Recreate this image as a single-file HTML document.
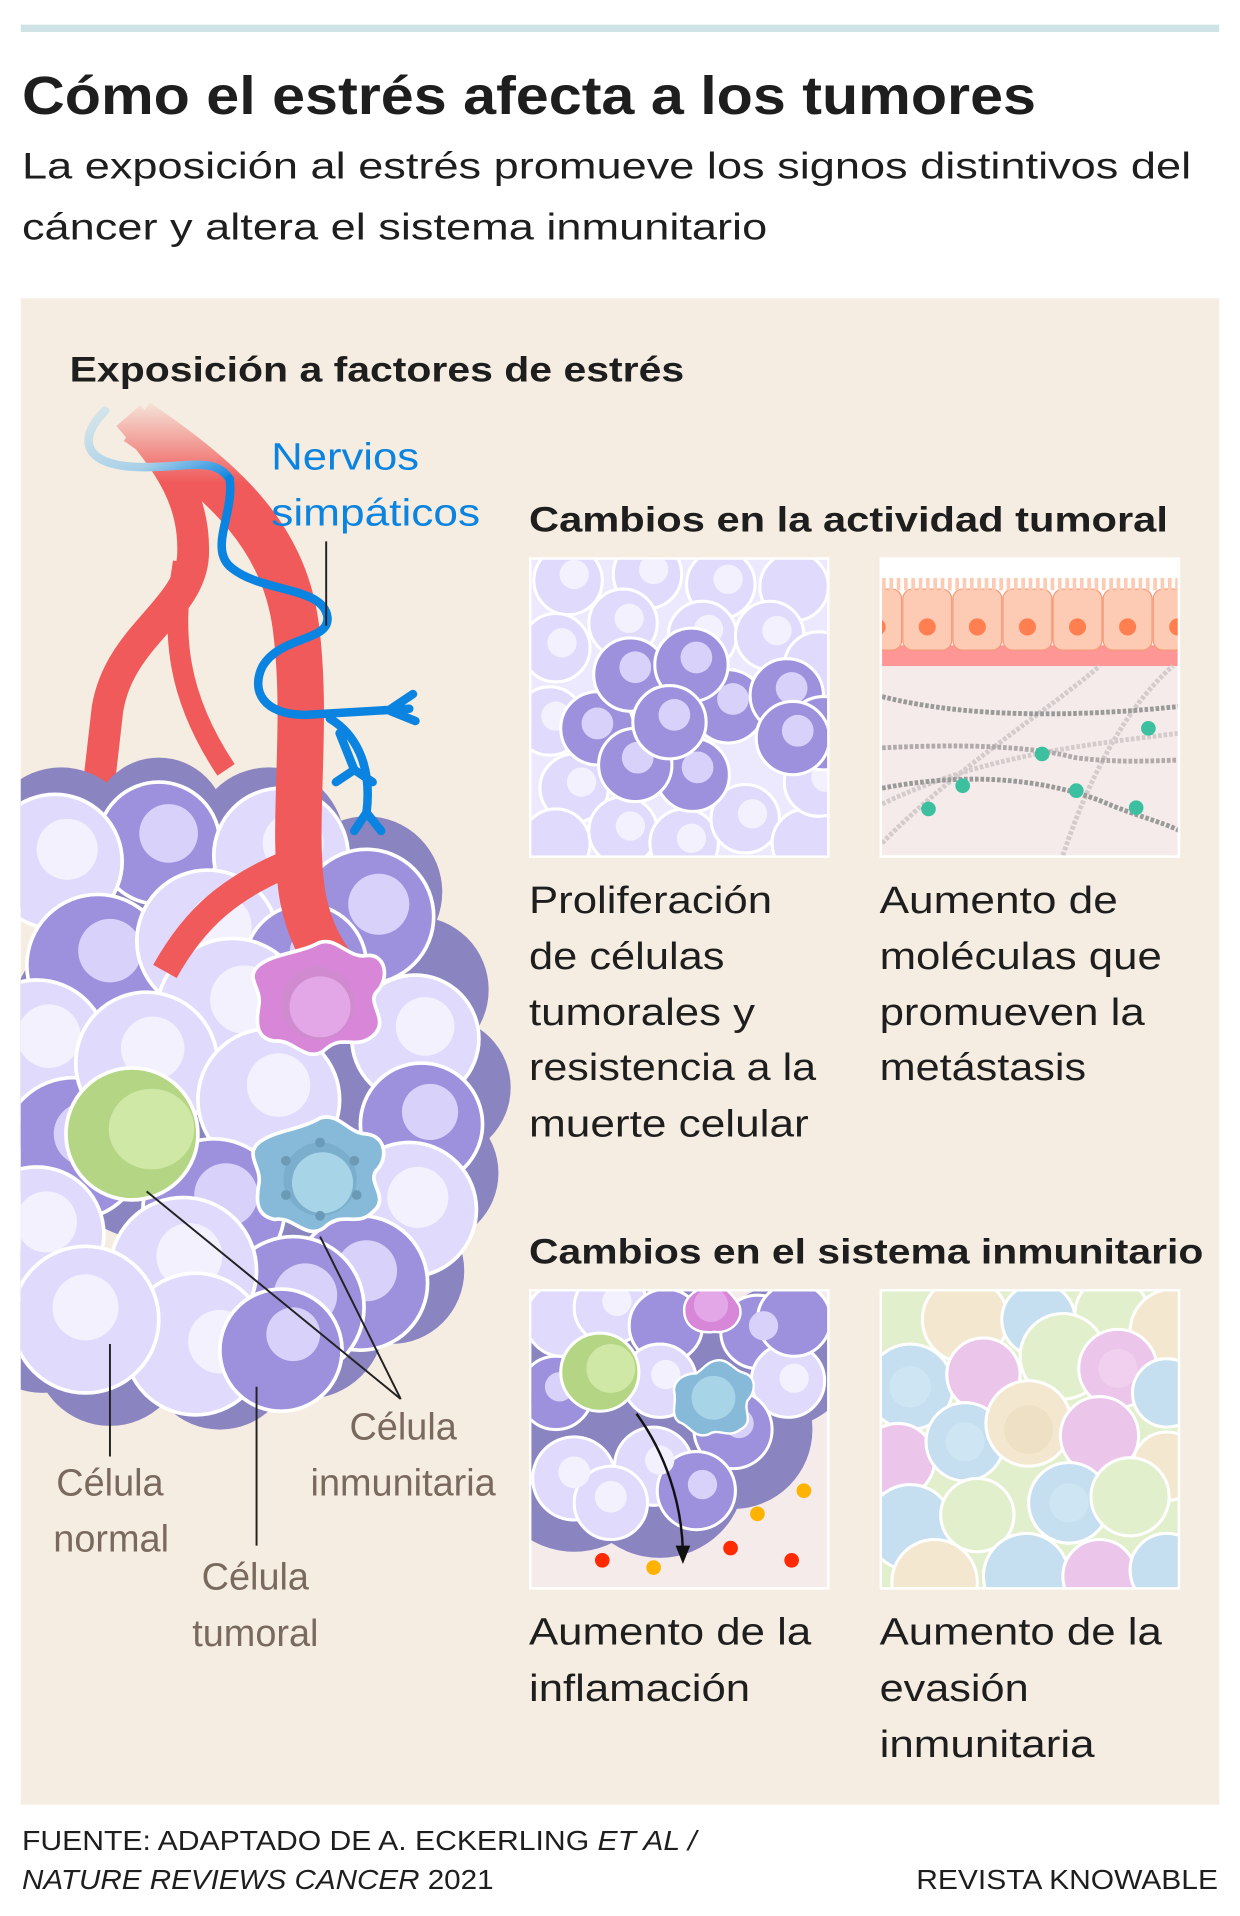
<!DOCTYPE html>
<html><head><meta charset="utf-8"><style>
html,body{margin:0;padding:0;background:#fff}
svg{display:block}
text{font-family:"Liberation Sans",sans-serif}
</style></head><body>
<svg width="1240" height="1916" viewBox="0 0 1015 1568" xmlns="http://www.w3.org/2000/svg">
<defs>
<clipPath id="c1"><rect x="435" y="458" width="242" height="242"/></clipPath>
<clipPath id="c2"><rect x="722" y="458" width="242" height="242"/></clipPath>
<clipPath id="c3"><rect x="435" y="1057" width="242" height="242"/></clipPath>
<clipPath id="c4"><rect x="722" y="1057" width="242" height="242"/></clipPath>
<clipPath id="cp"><rect x="17" y="244" width="981" height="1233"/></clipPath>
<linearGradient id="fade" x1="0" y1="0" x2="0" y2="1"><stop offset="0" stop-color="#f5ede1" stop-opacity="1"/><stop offset="1" stop-color="#f5ede1" stop-opacity="0"/></linearGradient>
<linearGradient id="nv" x1="0" y1="0" x2="1" y2="1"><stop offset="0" stop-color="#d6e6ea"/><stop offset="0.6" stop-color="#a9d0e8"/><stop offset="1" stop-color="#0a84e0"/></linearGradient>
</defs>
<rect x="17" y="20" width="981" height="6" fill="#cfe3e6"/>
<text x="18" y="93" font-size="44" font-weight="bold" fill="#1e1e1e" textLength="830" lengthAdjust="spacingAndGlyphs">Cómo el estrés afecta a los tumores</text>
<text x="18" y="146" font-size="30" fill="#1e1e1e" textLength="957" lengthAdjust="spacingAndGlyphs">La exposición al estrés promueve los signos distintivos del</text>
<text x="18" y="196" font-size="30" fill="#1e1e1e" textLength="610" lengthAdjust="spacingAndGlyphs">cáncer y altera el sistema inmunitario</text>
<rect x="17" y="244" width="981" height="1233" fill="#f5ede1"/>
<text x="57" y="312" font-size="29" font-weight="bold" fill="#1e1e1e" textLength="503" lengthAdjust="spacingAndGlyphs">Exposición a factores de estrés</text>

<g clip-path="url(#cp)">
<path d="M105,340 C140,380 160,410 158,455 C155,500 98,520 88,580 L80,650" fill="none" stroke="#f05a5a" stroke-width="26"/>
<path d="M150,460 C140,520 145,570 185,630" fill="none" stroke="#f05a5a" stroke-width="17"/>
<g fill="#8a84c0">
<circle cx="50" cy="690" r="62"/><circle cx="130" cy="675" r="55"/><circle cx="220" cy="690" r="62"/><circle cx="300" cy="730" r="62"/>
<circle cx="340" cy="810" r="60"/><circle cx="360" cy="890" r="58"/><circle cx="350" cy="960" r="58"/><circle cx="320" cy="1040" r="60"/>
<circle cx="250" cy="1080" r="65"/><circle cx="180" cy="1110" r="60"/><circle cx="90" cy="1105" r="62"/><circle cx="35" cy="1080" r="60"/>
<circle cx="150" cy="870" r="150"/><circle cx="250" cy="900" r="130"/>
</g>
<g stroke="#fff" stroke-width="3">
<circle cx="130" cy="690" r="50" fill="#9d91dd"/><circle cx="138" cy="682" r="24" fill="#d8d2fa" stroke="none"/>
<circle cx="45" cy="705" r="55" fill="#e0dafc"/><circle cx="55" cy="695" r="25" fill="#f3f1fe" stroke="none"/>
<circle cx="230" cy="700" r="55" fill="#e0dafc"/><circle cx="240" cy="690" r="25" fill="#f3f1fe" stroke="none"/>
<circle cx="300" cy="750" r="55" fill="#9d91dd"/><circle cx="310" cy="740" r="25" fill="#d8d2fa" stroke="none"/>
<circle cx="80" cy="790" r="58" fill="#9d91dd"/><circle cx="90" cy="778" r="26" fill="#d8d2fa" stroke="none"/>
<circle cx="170" cy="770" r="58" fill="#e0dafc"/><circle cx="180" cy="758" r="26" fill="#f3f1fe" stroke="none"/>
<circle cx="250" cy="790" r="50" fill="#9d91dd"/><circle cx="260" cy="780" r="23" fill="#d8d2fa" stroke="none"/>
<circle cx="30" cy="860" r="58" fill="#e0dafc"/><circle cx="40" cy="848" r="26" fill="#f3f1fe" stroke="none"/>
<circle cx="340" cy="850" r="52" fill="#e0dafc"/><circle cx="348" cy="840" r="24" fill="#f3f1fe" stroke="none"/>
<circle cx="345" cy="920" r="50" fill="#9d91dd"/><circle cx="352" cy="910" r="23" fill="#d8d2fa" stroke="none"/>
<circle cx="335" cy="990" r="55" fill="#e0dafc"/><circle cx="342" cy="980" r="25" fill="#f3f1fe" stroke="none"/>
<circle cx="295" cy="1050" r="55" fill="#9d91dd"/><circle cx="300" cy="1040" r="25" fill="#d8d2fa" stroke="none"/>
<circle cx="190" cy="830" r="62" fill="#e0dafc"/><circle cx="200" cy="818" r="28" fill="#f3f1fe" stroke="none"/>
<circle cx="60" cy="940" r="58" fill="#9d91dd"/><circle cx="70" cy="928" r="26" fill="#d8d2fa" stroke="none"/>
<circle cx="120" cy="870" r="58" fill="#e0dafc"/><circle cx="125" cy="858" r="26" fill="#f3f1fe" stroke="none"/>
<circle cx="220" cy="900" r="58" fill="#e0dafc"/><circle cx="228" cy="888" r="26" fill="#f3f1fe" stroke="none"/>
<circle cx="30" cy="1010" r="55" fill="#e0dafc"/><circle cx="38" cy="1000" r="25" fill="#f3f1fe" stroke="none"/>
<circle cx="175" cy="990" r="58" fill="#9d91dd"/><circle cx="185" cy="978" r="26" fill="#d8d2fa" stroke="none"/>
<circle cx="240" cy="1070" r="58" fill="#9d91dd"/><circle cx="250" cy="1060" r="26" fill="#d8d2fa" stroke="none"/>
<circle cx="150" cy="1040" r="60" fill="#e0dafc"/><circle cx="155" cy="1028" r="27" fill="#f3f1fe" stroke="none"/>
<circle cx="160" cy="1100" r="58" fill="#e0dafc"/><circle cx="180" cy="1098" r="26" fill="#f3f1fe" stroke="none"/>
<circle cx="70" cy="1080" r="60" fill="#e0dafc"/><circle cx="70" cy="1070" r="27" fill="#f3f1fe" stroke="none"/>
<circle cx="230" cy="1105" r="50" fill="#9d91dd"/><circle cx="240" cy="1092" r="22" fill="#d8d2fa" stroke="none"/>
</g>
<path d="M112,345 C185,395 235,440 243,520 C252,600 238,680 248,735 C255,770 270,790 285,805" fill="none" stroke="#f05a5a" stroke-width="38"/>
<path d="M240,705 C190,725 160,750 135,795" fill="none" stroke="#f05a5a" stroke-width="22"/>
<rect x="60" y="325" width="220" height="70" fill="url(#fade)"/>
<path d="M86,336 C62,360 70,380 110,382 C150,384 175,372 188,392" fill="none" stroke="url(#nv)" stroke-width="7" stroke-linecap="round"/>
<path d="M188,392 C192,420 170,450 190,465 C215,485 265,480 268,505 C270,525 230,520 215,545 C205,565 215,585 250,585 L335,580 M320,580 L338,568 M320,582 L340,590 M270,588 C290,600 305,625 300,665 L290,680 M300,665 L312,680 M278,600 L290,630 L275,640 M290,630 L305,640" fill="none" stroke="#0a84e0" stroke-width="7" stroke-linecap="round" stroke-linejoin="round"/>
<path d="M260,772 C275,765 285,785 300,782 C315,780 320,800 308,812 C300,822 320,835 305,848 C290,860 280,845 265,860 C250,870 240,850 225,852 C208,850 210,835 212,822 C214,808 200,800 212,790 C225,780 245,780 260,772Z" fill="#d887d8" stroke="#fff" stroke-width="3"/>
<circle cx="260" cy="821" r="30" fill="#d08ad0"/><circle cx="262" cy="824" r="25" fill="#e3a6e6"/>
<circle cx="108" cy="928" r="54" fill="#b4d584" stroke="#fff" stroke-width="3"/>
<ellipse cx="124" cy="924" rx="35" ry="33" fill="#d0e8a6"/>
<path d="M262,915 C278,910 285,928 300,928 C316,930 318,948 308,958 C300,968 320,980 305,992 C292,1005 280,990 265,1005 C250,1015 240,995 225,998 C208,995 210,980 212,968 C214,955 200,945 212,935 C225,925 245,925 262,915Z" fill="#86bad8" stroke="#fff" stroke-width="3"/>
<circle cx="262" cy="965" r="30" fill="#7aaecc"/><circle cx="264" cy="968" r="25" fill="#a8d4e8"/>
<g fill="#6a9ab5"><circle cx="262" cy="935" r="4"/><circle cx="290" cy="950" r="4"/><circle cx="292" cy="978" r="4"/><circle cx="262" cy="995" r="4"/><circle cx="234" cy="978" r="4"/><circle cx="234" cy="950" r="4"/></g>
</g>
<g stroke="#222" stroke-width="1.6" fill="none">
<line x1="267" y1="443" x2="267" y2="512"/>
<line x1="120" y1="975" x2="328" y2="1145"/>
<line x1="262" y1="1012" x2="328" y2="1145"/>
<line x1="90" y1="1100" x2="90" y2="1192"/>
<line x1="210" y1="1135" x2="210" y2="1265"/>
</g>
<g font-size="31" fill="#0a84e0">
<text x="222" y="384" textLength="121" lengthAdjust="spacingAndGlyphs">Nervios</text>
<text x="222" y="430" textLength="171" lengthAdjust="spacingAndGlyphs">simpáticos</text>
</g>
<g font-size="31" fill="#7a6a5e" text-anchor="middle">
<text x="90" y="1224">Célula</text><text x="91" y="1270">normal</text>
<text x="330" y="1178">Célula</text><text x="330" y="1224">inmunitaria</text>
<text x="209" y="1301">Célula</text><text x="209" y="1347">tumoral</text>
</g>

<text x="433" y="435" font-size="29" font-weight="bold" fill="#1e1e1e" textLength="523" lengthAdjust="spacingAndGlyphs">Cambios en la actividad tumoral</text>
<text x="433" y="1034" font-size="29" font-weight="bold" fill="#1e1e1e" textLength="552" lengthAdjust="spacingAndGlyphs">Cambios en el sistema inmunitario</text>

<rect x="433" y="456" width="246" height="246" fill="#fff"/>
<g clip-path="url(#c1)">
<rect x="435" y="458" width="242" height="242" fill="#ece8fd"/>
<g stroke="#fff" stroke-width="2.5" fill="#e0dafc">
<circle cx="465" cy="475" r="28"/><circle cx="530" cy="470" r="28"/><circle cx="590" cy="478" r="28"/><circle cx="650" cy="480" r="28"/>
<circle cx="455" cy="530" r="28"/><circle cx="510" cy="510" r="28"/><circle cx="575" cy="520" r="28"/><circle cx="630" cy="520" r="28"/><circle cx="670" cy="545" r="28"/>
<circle cx="450" cy="590" r="28"/><circle cx="470" cy="645" r="28"/><circle cx="455" cy="690" r="28"/><circle cx="510" cy="680" r="28"/><circle cx="560" cy="690" r="28"/>
<circle cx="610" cy="670" r="28"/><circle cx="660" cy="690" r="28"/><circle cx="670" cy="640" r="28"/>
</g>
<g fill="#f3f1fe"><circle cx="470" cy="470" r="12"/><circle cx="535" cy="466" r="12"/><circle cx="596" cy="474" r="12"/><circle cx="515" cy="506" r="12"/><circle cx="580" cy="515" r="12"/><circle cx="636" cy="516" r="12"/><circle cx="460" cy="526" r="12"/><circle cx="455" cy="586" r="12"/><circle cx="476" cy="640" r="12"/><circle cx="516" cy="676" r="12"/><circle cx="566" cy="686" r="12"/><circle cx="616" cy="666" r="12"/><circle cx="676" cy="636" r="12"/></g>
<g stroke="#fff" stroke-width="2.5">
<circle cx="489" cy="596" r="30" fill="#9d91dd"/><circle cx="489" cy="592" r="13" fill="#d8d2fa" stroke="none"/>
<circle cx="516" cy="552" r="30" fill="#9d91dd"/><circle cx="520" cy="546" r="13" fill="#d8d2fa" stroke="none"/>
<circle cx="596" cy="578" r="30" fill="#9d91dd"/><circle cx="600" cy="572" r="13" fill="#d8d2fa" stroke="none"/>
<circle cx="566" cy="544" r="30" fill="#9d91dd"/><circle cx="570" cy="538" r="13" fill="#d8d2fa" stroke="none"/>
<circle cx="644" cy="569" r="30" fill="#9d91dd"/><circle cx="648" cy="563" r="13" fill="#d8d2fa" stroke="none"/>
<circle cx="674" cy="600" r="30" fill="#9d91dd"/>
<circle cx="567" cy="634" r="30" fill="#9d91dd"/><circle cx="571" cy="628" r="13" fill="#d8d2fa" stroke="none"/>
<circle cx="520" cy="626" r="30" fill="#9d91dd"/><circle cx="522" cy="620" r="13" fill="#d8d2fa" stroke="none"/>
<circle cx="548" cy="591" r="30" fill="#9d91dd"/><circle cx="552" cy="585" r="13" fill="#d8d2fa" stroke="none"/>
<circle cx="649" cy="604" r="30" fill="#9d91dd"/><circle cx="653" cy="598" r="13" fill="#d8d2fa" stroke="none"/>
</g>
</g>
<rect x="720" y="456" width="246" height="246" fill="#fff"/>
<g clip-path="url(#c2)">
<rect x="722" y="530" width="242" height="170" fill="#f5ebea"/>
<rect x="722" y="528" width="242" height="17" fill="#ff9696"/>
<g fill="#fdcab3" stroke="#f59b7a" stroke-width="1">
<rect x="700" y="482" width="38" height="50" rx="8"/><rect x="739" y="482" width="40" height="50" rx="8"/><rect x="780" y="482" width="40" height="50" rx="8"/><rect x="821" y="482" width="40" height="50" rx="8"/><rect x="862" y="482" width="40" height="50" rx="8"/><rect x="903" y="482" width="40" height="50" rx="8"/><rect x="944" y="482" width="40" height="50" rx="8"/>
</g>
<path d="M722,478 h242" stroke="#fdcab3" stroke-width="10" stroke-dasharray="3 3"/>
<g fill="#ff7f50"><circle cx="718" cy="513" r="7"/><circle cx="759" cy="513" r="7"/><circle cx="800" cy="513" r="7"/><circle cx="841" cy="513" r="7"/><circle cx="882" cy="513" r="7"/><circle cx="923" cy="513" r="7"/><circle cx="964" cy="513" r="7"/></g>
<g fill="none" stroke-width="4" stroke-dasharray="3 1.5">
<path d="M722,690 C780,630 860,580 900,545" stroke="#d4cccc"/>
<path d="M870,700 C890,640 920,580 960,545" stroke="#d4cccc"/>
<path d="M722,658 C800,620 880,610 966,600" stroke="#d4cccc"/>
<path d="M722,570 C800,590 900,585 966,578" stroke="#9a9a9a"/>
<path d="M722,612 C800,608 850,612 880,620 C920,625 950,622 966,622" stroke="#b0aaaa"/>
<path d="M722,645 C800,630 860,640 900,655 C930,668 950,672 966,680" stroke="#9a9a9a"/>
</g>
<g fill="#3cc0a0"><circle cx="940" cy="596" r="6"/><circle cx="853" cy="617" r="6"/><circle cx="788" cy="643" r="6"/><circle cx="881" cy="647" r="6"/><circle cx="760" cy="662" r="6"/><circle cx="930" cy="661" r="6"/></g>
</g>
<rect x="433" y="1055" width="246" height="246" fill="#fff"/>
<g clip-path="url(#c3)">
<rect x="435" y="1057" width="242" height="242" fill="#f5ebea"/>
<g fill="#8a84c0"><circle cx="470" cy="1200" r="70"/><circle cx="540" cy="1205" r="70"/><circle cx="600" cy="1170" r="65"/><circle cx="640" cy="1110" r="58"/><circle cx="520" cy="1120" r="90"/></g>
<g stroke="#fff" stroke-width="2.5">
<circle cx="460" cy="1080" r="30" fill="#e0dafc"/><circle cx="500" cy="1070" r="30" fill="#e0dafc"/><circle cx="545" cy="1085" r="30" fill="#9d91dd"/>
<circle cx="620" cy="1090" r="30" fill="#9d91dd"/><circle cx="645" cy="1130" r="30" fill="#e0dafc"/><circle cx="650" cy="1080" r="30" fill="#9d91dd"/>
<circle cx="455" cy="1140" r="30" fill="#9d91dd"/><circle cx="540" cy="1130" r="30" fill="#e0dafc"/><circle cx="600" cy="1170" r="32" fill="#9d91dd"/>
<circle cx="470" cy="1210" r="34" fill="#e0dafc"/><circle cx="535" cy="1200" r="32" fill="#e0dafc"/><circle cx="570" cy="1220" r="32" fill="#9d91dd"/><circle cx="500" cy="1230" r="30" fill="#e0dafc"/>
</g>
<g fill="#f3f1fe"><circle cx="470" cy="1205" r="13"/><circle cx="500" cy="1225" r="13"/><circle cx="540" cy="1195" r="12"/><circle cx="545" cy="1125" r="12"/><circle cx="650" cy="1128" r="12"/><circle cx="505" cy="1065" r="12"/></g>
<g fill="#d8d2fa"><circle cx="575" cy="1215" r="12"/><circle cx="605" cy="1165" r="12"/><circle cx="625" cy="1085" r="12"/><circle cx="458" cy="1135" r="12"/></g>
<path d="M582,1052 C592,1050 600,1060 605,1068 C610,1080 598,1092 585,1090 C570,1092 560,1085 560,1072 C560,1060 572,1054 582,1052Z" fill="#d887d8" stroke="#fff" stroke-width="2"/>
<circle cx="582" cy="1068" r="14" fill="#e3a6e6"/>
<circle cx="491" cy="1123" r="32" fill="#b4d584" stroke="#fff" stroke-width="2.5"/><circle cx="500" cy="1120" r="20" fill="#d0e8a6"/>
<path d="M584,1114 C596,1110 600,1122 610,1124 C620,1128 618,1140 612,1146 C608,1154 618,1164 606,1170 C596,1178 588,1168 580,1174 C568,1178 564,1166 556,1164 C548,1158 554,1148 552,1140 C550,1130 560,1124 570,1124 C576,1120 578,1116 584,1114Z" fill="#86bad8" stroke="#fff" stroke-width="2"/>
<circle cx="584" cy="1144" r="18" fill="#a8d4e8"/>
<path d="M521,1157 C545,1190 558,1230 559,1270" fill="none" stroke="#111" stroke-width="2"/>
<path d="M553,1265 L565,1265 L559,1280Z" fill="#111"/>
<g><circle cx="493" cy="1277" r="6" fill="#ff2a00"/><circle cx="535" cy="1283" r="6" fill="#ffb300"/><circle cx="598" cy="1267" r="6" fill="#ff2a00"/><circle cx="620" cy="1239" r="6" fill="#ffb300"/><circle cx="658" cy="1220" r="6" fill="#ffb300"/><circle cx="648" cy="1277" r="6" fill="#ff2a00"/></g>
</g>
<rect x="720" y="1055" width="246" height="246" fill="#fff"/>
<g clip-path="url(#c4)" stroke="#fff" stroke-width="2.5">
<rect x="722" y="1057" width="242" height="242" fill="#e2efcc" stroke="none"/>
<circle cx="790" cy="1080" r="35" fill="#f3e7cf"/><circle cx="850" cy="1080" r="30" fill="#c5dff0"/><circle cx="910" cy="1075" r="30" fill="#e2efcc"/><circle cx="960" cy="1090" r="35" fill="#f3e7cf"/>
<circle cx="745" cy="1135" r="35" fill="#c5dff0"/><circle cx="805" cy="1125" r="30" fill="#ecc6ea"/><circle cx="870" cy="1110" r="35" fill="#e2efcc"/><circle cx="915" cy="1120" r="32" fill="#ecc6ea"/><circle cx="955" cy="1140" r="28" fill="#c5dff0"/>
<circle cx="735" cy="1195" r="30" fill="#ecc6ea"/><circle cx="790" cy="1180" r="32" fill="#c5dff0"/><circle cx="842" cy="1165" r="35" fill="#f3e7cf"/><circle cx="900" cy="1175" r="32" fill="#ecc6ea"/><circle cx="955" cy="1200" r="28" fill="#f3e7cf"/>
<circle cx="745" cy="1250" r="35" fill="#c5dff0"/><circle cx="800" cy="1240" r="30" fill="#e2efcc"/><circle cx="875" cy="1230" r="33" fill="#c5dff0"/><circle cx="925" cy="1225" r="32" fill="#e2efcc"/>
<circle cx="765" cy="1295" r="35" fill="#f3e7cf"/><circle cx="840" cy="1290" r="35" fill="#c5dff0"/><circle cx="900" cy="1290" r="30" fill="#ecc6ea"/><circle cx="955" cy="1285" r="30" fill="#c5dff0"/>
<g stroke="none" opacity="0.6"><circle cx="745" cy="1135" r="17" fill="#d4e9f6"/><circle cx="790" cy="1180" r="16" fill="#d4e9f6"/><circle cx="875" cy="1230" r="16" fill="#d4e9f6"/><circle cx="842" cy="1170" r="20" fill="#ebdcbd"/><circle cx="915" cy="1120" r="16" fill="#f3d6f1"/></g>
</g>

<g font-size="31" fill="#1e1e1e">
<text x="433" y="747" textLength="199" lengthAdjust="spacingAndGlyphs">Proliferación</text>
<text x="433" y="793" textLength="160" lengthAdjust="spacingAndGlyphs">de células</text>
<text x="433" y="839" textLength="185" lengthAdjust="spacingAndGlyphs">tumorales y</text>
<text x="433" y="884" textLength="235" lengthAdjust="spacingAndGlyphs">resistencia a la</text>
<text x="433" y="930" textLength="229" lengthAdjust="spacingAndGlyphs">muerte celular</text>
<text x="720" y="747" textLength="195" lengthAdjust="spacingAndGlyphs">Aumento de</text>
<text x="720" y="793" textLength="231" lengthAdjust="spacingAndGlyphs">moléculas que</text>
<text x="720" y="839" textLength="217" lengthAdjust="spacingAndGlyphs">promueven la</text>
<text x="720" y="884" textLength="169" lengthAdjust="spacingAndGlyphs">metástasis</text>
<text x="433" y="1346" textLength="231" lengthAdjust="spacingAndGlyphs">Aumento de la</text>
<text x="433" y="1392" textLength="181" lengthAdjust="spacingAndGlyphs">inflamación</text>
<text x="720" y="1346" textLength="231" lengthAdjust="spacingAndGlyphs">Aumento de la</text>
<text x="720" y="1392" textLength="122" lengthAdjust="spacingAndGlyphs">evasión</text>
<text x="720" y="1438" textLength="176" lengthAdjust="spacingAndGlyphs">inmunitaria</text>
</g>
<g font-size="23" fill="#1e1e1e">
<text x="18" y="1514" textLength="552" lengthAdjust="spacingAndGlyphs">FUENTE: ADAPTADO DE A. ECKERLING <tspan font-style="italic">ET AL /</tspan></text>
<text x="18" y="1546" textLength="386" lengthAdjust="spacingAndGlyphs"><tspan font-style="italic">NATURE REVIEWS CANCER</tspan> 2021</text>
<text x="997" y="1546" text-anchor="end" textLength="247" lengthAdjust="spacingAndGlyphs">REVISTA KNOWABLE</text>
</g>
</svg>
</body></html>
